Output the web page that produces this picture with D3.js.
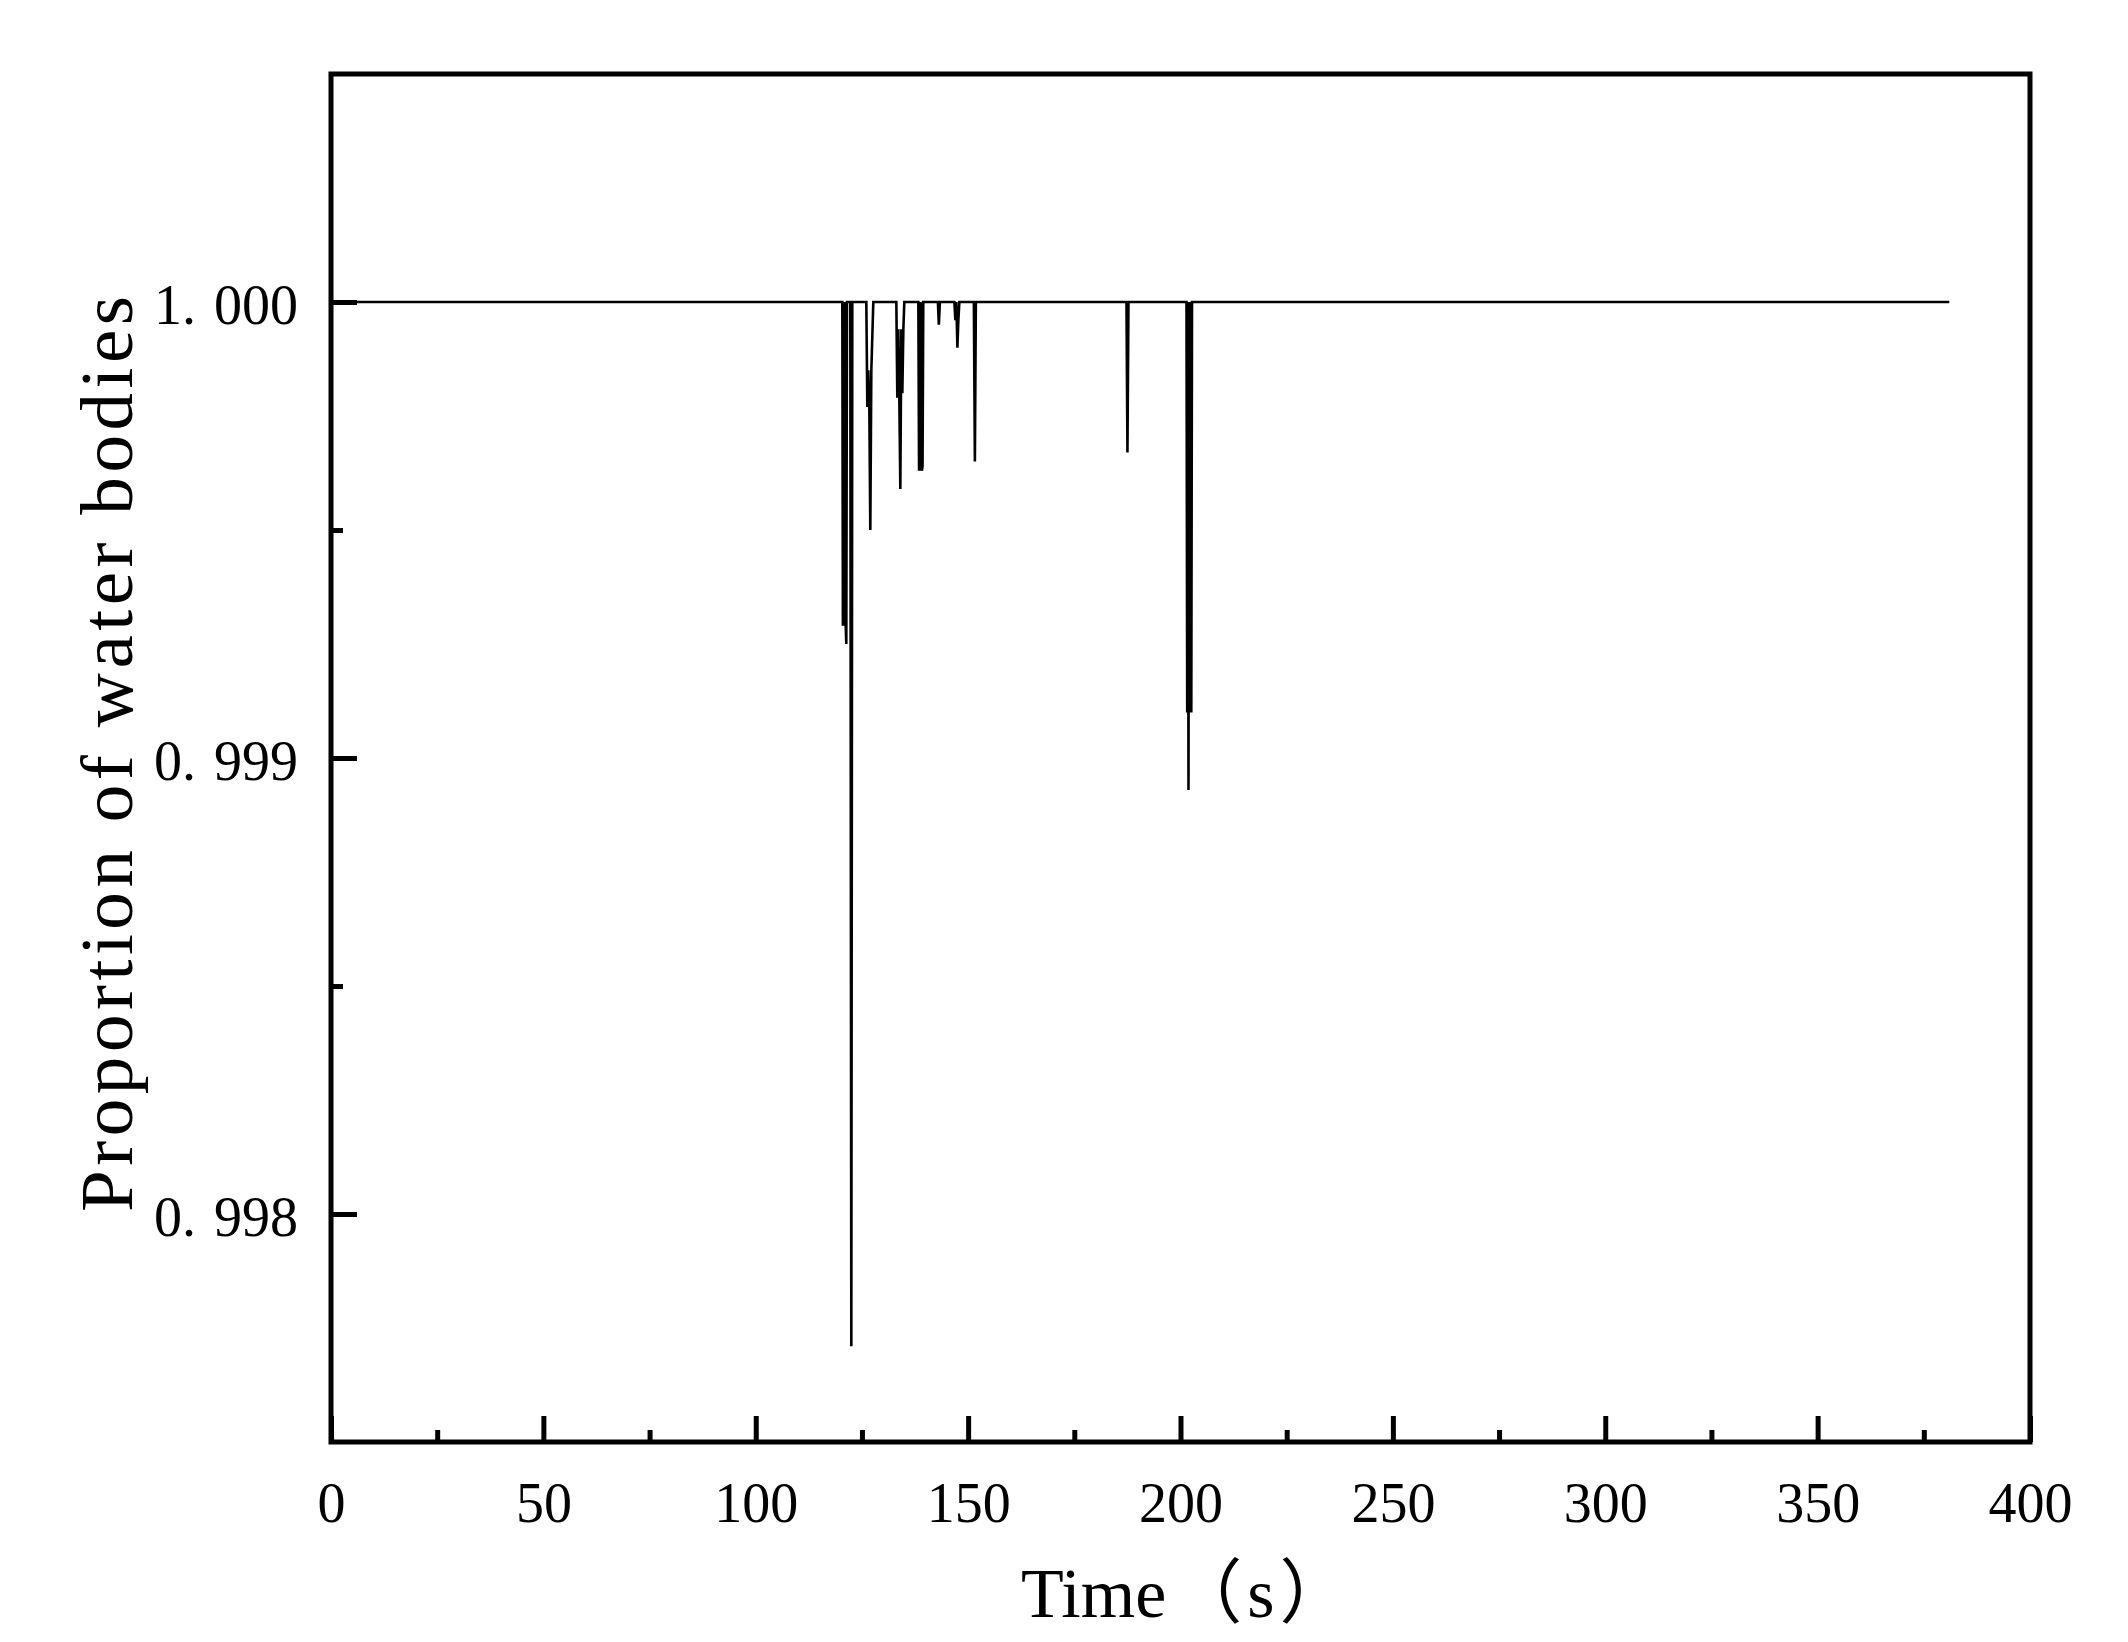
<!DOCTYPE html>
<html>
<head>
<meta charset="utf-8">
<script src="https://cdn.jsdelivr.net/npm/d3@7/dist/d3.min.js"></script>
<style>
    body { margin: 0; background: #fff; }
    text { font-family: "Liberation Serif", "Noto Sans CJK SC", serif; fill: #000; }
</style>
</head>
<body>
<div id="chart"></div>
<script>
//Datos
const timeS = [0,
    120.38, 120.52, 120.68, 120.85, 121.01, 121.18, 121.32, 121.48,
    122.26, 122.50, 122.73,
    126.03, 126.27, 126.50, 126.74, 126.97, 127.21, 127.68,
    133.10, 133.33, 133.57, 133.80, 134.04, 134.28, 134.51, 134.75, 134.98,
    138.28, 138.45, 138.61, 138.78, 138.94, 139.11, 139.27, 139.44,
    142.88, 143.11, 143.35,
    146.76, 147.00, 147.23, 147.47, 147.70, 147.94,
    151.35, 151.59, 151.82,
    187.28, 187.51, 187.75,
    201.41, 201.58, 201.74, 201.88, 202.05, 202.21, 202.38, 202.54, 202.71,
    381];

const proportion = [1,
    1, 0.99929, 1, 0.99929, 1, 0.99929, 0.99925, 1,
    1, 0.99771, 1,
    1, 0.99977, 0.99985, 0.99977, 0.99950, 0.99985, 1,
    1, 0.99979, 0.99994, 0.99979, 0.99959, 0.99994, 0.99980, 0.99994, 1,
    1, 0.99963, 1, 0.99963, 1, 0.99963, 0.99964, 1,
    1, 0.99995, 1,
    1, 0.99996, 1, 0.99990, 0.99996, 1,
    1, 0.99965, 1,
    1, 0.99967, 1,
    1, 0.99910, 1, 0.99893, 1, 0.99910, 1, 0.99910, 1,
    1];

//Ticks
const xMajor = [0, 50, 100, 150, 200, 250, 300, 350, 400],
    xMinor = [25, 75, 125, 175, 225, 275, 325, 375],
    yMajor = [0.998, 0.999, 1.000],
    yMinor = [0.9985, 0.9995];

const X_TITLE = ['Time', '（s）'],
    Y_TITLE = 'Proportion of water bodies';

let margin = {top: 74, right: 98, bottom: 200, left: 331},
    width = 2128 - margin.left - margin.right,
    height = 1642 - margin.top - margin.bottom;

let root = d3.select('#chart')
    .append('svg')
        .attr('width', 2128)
        .attr('height', 1642);

let svg = root.append('g')
    .attr('transform', 'translate(' + margin.left + ',' + margin.top + ')');

let x = d3.scaleLinear()
    .domain([0, 400])
    .range([0, width]);

let y = d3.scaleLinear()
    .domain([0.9975, 1.0005])
    .range([height, 0]);

function styleAxis(g, size) {
    g.select('.domain').remove();
    g.selectAll('.tick line')
        .attr('stroke', '#000')
        .attr('stroke-width', 5);
    g.selectAll('.tick text')
        .style('font-size', size + 'px');
}

//Eje X
svg.append('g')
    .attr('transform', 'translate(0,' + height + ')')
    .call(d3.axisBottom(x).tickValues(xMajor).tickSize(-26).tickPadding(40).tickFormat(d3.format('d')))
    .call(function(g) { styleAxis(g, 56); });

svg.append('g')
    .attr('transform', 'translate(0,' + height + ')')
    .call(d3.axisBottom(x).tickValues(xMinor).tickSize(-12).tickFormat(''))
    .call(function(g) { styleAxis(g, 56); });

//Eje Y
svg.append('g')
    .call(d3.axisLeft(y).tickValues(yMajor).tickSize(-26).tickPadding(33).tickFormat(d3.format('.3f')))
    .call(function(g) {
        styleAxis(g, 56);
        g.selectAll('.tick text')
            .attr('dy', '0.38em')
            .each(function(d) {
                let parts = d3.format('.3f')(d).split('.');
                let t = d3.select(this).text(null);
                t.append('tspan').text(parts[0] + '.');
                t.append('tspan').attr('dx', 18).text(parts[1]);
            });
    });

svg.append('g')
    .call(d3.axisLeft(y).tickValues(yMinor).tickSize(-12).tickFormat(''))
    .call(function(g) { styleAxis(g, 56); });

//Línea
let series = timeS.map(function(t, i) { return {t: t, v: proportion[i]}; });

svg.append('path')
    .datum(series)
    .attr('fill', 'none')
    .attr('stroke', '#000')
    .attr('stroke-width', 2.6)
    .attr('stroke-linejoin', 'miter')
    .attr('d', d3.line()
        .x(function(d) { return x(d.t); })
        .y(function(d) { return y(d.v); }));

//Marco
svg.append('rect')
    .attr('x', 0)
    .attr('y', 0)
    .attr('width', width)
    .attr('height', height)
    .attr('fill', 'none')
    .attr('stroke', '#000')
    .attr('stroke-width', 5);

//Títulos
let xTitle = root.append('text')
    .attr('x', 1021)
    .attr('y', 1617)
    .style('font-size', '70px');
xTitle.append('tspan').text(X_TITLE[0]);
xTitle.append('tspan')
    .attr('dx', 6)
    .style('letter-spacing', '5px')
    .text(X_TITLE[1]);

root.append('text')
    .attr('transform', 'translate(132,1212) rotate(-90)')
    .attr('textLength', 916)
    .attr('lengthAdjust', 'spacing')
    .style('font-size', '75px')
    .text(Y_TITLE);
</script>
</body>
</html>
